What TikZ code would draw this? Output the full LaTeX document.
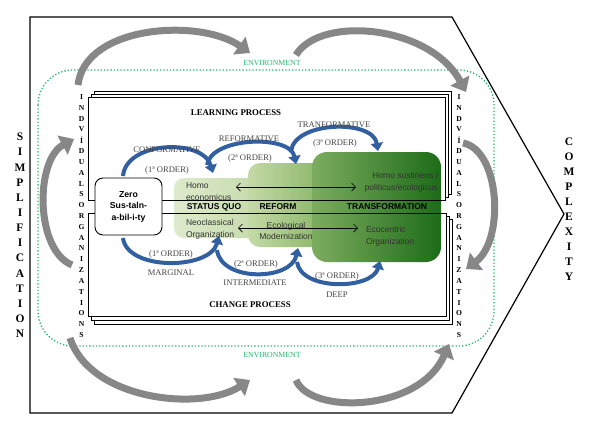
\documentclass[tikz,border=0pt]{standalone}
\usepackage{fontspec}
\setmainfont{Liberation Serif}
\newfontfamily\arialf{Liberation Sans}
\usetikzlibrary{arrows.meta}
\definecolor{envgreen}{RGB}{40,180,110}
\definecolor{arrblue}{RGB}{50,95,160}
\definecolor{arrgray}{RGB}{135,135,135}
\definecolor{lgA}{RGB}{222,234,204}
\definecolor{lgB}{RGB}{196,218,170}
\definecolor{mgA}{RGB}{196,218,166}
\definecolor{mgB}{RGB}{130,176,95}
\definecolor{dgA}{RGB}{125,172,95}
\definecolor{dgB}{RGB}{28,108,24}
\tikzset{
  every node/.style={inner sep=0pt, outer sep=0pt},
  bigarrow/.style={draw=arrgray, line width=7pt, -{Triangle[width=21pt,length=13pt]}},
  bluearrow/.style={draw=arrblue, line width=4pt, -{Triangle[width=12pt,length=8pt]}},
  serlab/.style={font=\fontsize{8.6}{10}\selectfont, text=black!72},
  boldser/.style={font=\fontsize{8.8}{10}\selectfont\bfseries},
  sanslab/.style={font=\arialf\fontsize{8.5}{11.8}\selectfont, text=black!80},
  sansbold/.style={font=\arialf\fontsize{8.5}{10}\selectfont\bfseries},
  vletter/.style={font=\fontsize{7.6}{8}\selectfont\bfseries},
  bigletter/.style={font=\fontsize{11.5}{12}\selectfont\bfseries},
  envlab/.style={font=\fontsize{7.8}{9}\selectfont, text=envgreen},
  procbox/.style={draw=black, line width=0.9pt, fill=white},
  hdbl/.style={draw=black, line width=0.7pt, {Straight Barb[length=4pt,width=8pt]}-{Straight Barb[length=4pt,width=8pt]}}
}
\begin{document}
\begin{tikzpicture}[x=1pt,y=-1pt]
\useasboundingbox (0,0) rectangle (594,429);
% outer pentagon
\draw[line width=1.2pt] (30,17) -- (452,17) -- (564,214) -- (452,413) -- (30,413) -- cycle;
% environment dotted
\draw[envgreen, dotted, line width=1.3pt, rounded corners=35pt] (38,70) rectangle (494,346);
\node[envlab] (envtop) at (272,63) {ENVIRONMENT};
\node[envlab] (envbot) at (272,355) {ENVIRONMENT};
% big gray arrows
\coordinate (g1a) at (78,85);  \coordinate (g1b) at (250,53);
\coordinate (g2a) at (296,55); \coordinate (g2b) at (466,92);
\coordinate (g3a) at (463,143);\coordinate (g3b) at (466,269);
\coordinate (g4a) at (296,380);\coordinate (g4b) at (449,344);
\coordinate (g5a) at (70,338); \coordinate (g5b) at (250,380);
\coordinate (g6a) at (72,265); \coordinate (g6b) at (74,139);
\draw[bigarrow] (g1a) .. controls (85,25) and (200,18) .. (g1b);
\draw[bigarrow] (g2a) .. controls (320,15) and (430,25) .. (g2b);
\draw[bigarrow] (g3a) .. controls (500,150) and (505,240) .. (g3b);
\draw[bigarrow] (g4a) .. controls (310,415) and (420,412) .. (g4b);
\draw[bigarrow] (g5a) .. controls (90,400) and (200,412) .. (g5b);
\draw[bigarrow] (g6a) .. controls (35,250) and (35,160) .. (g6b);
% stacked boxes
\draw[procbox] (94,91) rectangle (451,194);
\draw[procbox] (91,94) rectangle (448,197);
\draw[procbox] (88,97) rectangle (445,200);
\draw[procbox] (94,219) rectangle (452,324);
\draw[procbox] (91,216) rectangle (449,320);
\draw[procbox] (88,213) rectangle (446,316);
% green shapes
\shade[left color=lgA, right color=lgB, rounded corners=10pt] (174,178) rectangle (262,238);
\shade[left color=mgA, right color=mgB, rounded corners=12pt] (248,163) rectangle (335,247);
\shade[shading=axis, shading angle=120, left color=dgA, right color=dgB, rounded corners=15pt] (312,152) rectangle (441,262);
% redraw box edges over shapes
\draw[line width=0.9pt] (88,200) -- (445,200);
\draw[line width=0.9pt] (88,213) -- (446,213);
% blue arrows
\coordinate (b1a) at (123,176); \coordinate (b1b) at (213,173);
\coordinate (b2a) at (207,165); \coordinate (b2b) at (296,164);
\coordinate (b3a) at (291,151); \coordinate (b3b) at (378,151);
\coordinate (b4a) at (123,238); \coordinate (b4b) at (219,236);
\coordinate (b5a) at (217,250); \coordinate (b5b) at (298,248);
\coordinate (b6a) at (297,262); \coordinate (b6b) at (380,261);
\draw[bluearrow] (b1a) .. controls (126,141) and (203,138) .. (b1b);
\draw[bluearrow] (b2a) .. controls (211,137) and (290,134) .. (b2b);
\draw[bluearrow] (b3a) .. controls (295,121) and (373,119) .. (b3b);
\draw[bluearrow] (b4a) .. controls (127,271) and (210,270) .. (b4b);
\draw[bluearrow] (b5a) .. controls (221,282) and (291,281) .. (b5b);
\draw[bluearrow] (b6a) .. controls (301,291) and (372,290) .. (b6b);
% zero box
\node[draw=black, line width=0.9pt, fill=white, rounded corners=8pt, minimum width=67pt, minimum height=57pt, align=center, font=\arialf\fontsize{8.7}{11.5}\selectfont\bfseries] (zero) at (128.5,206.5) {Zero\\Sus-taln-\\a-bil-i-ty};
% labels
\node[boldser] (learn) at (236,113) {LEARNING PROCESS};
\node[boldser] (change) at (250,305) {CHANGE PROCESS};
\node[serlab] (conf) at (167,150) {CONFORMATIVE};
\node[serlab] (o1u) at (167,170) {(1ª ORDER)};
\node[serlab] (refo) at (249,139) {REFORMATIVE};
\node[serlab] (o2u) at (250,158) {(2ª ORDER)};
\node[serlab] (tran) at (334,125) {TRANFORMATIVE};
\node[serlab] (o3u) at (335,143) {(3ª ORDER)};
\node[serlab] (o1l) at (171,254) {(1ª ORDER)};
\node[serlab] (marg) at (171,273) {MARGINAL};
\node[serlab] (o2l) at (256,264) {(2ª ORDER)};
\node[serlab] (inter) at (255,283) {INTERMEDIATE};
\node[serlab] (o3l) at (337,276) {(3ª ORDER)};
\node[serlab] (deep) at (337,295) {DEEP};
\node[sansbold] (sq) at (214,207) {STATUS QUO};
\node[sansbold] (rf) at (278,207) {REFORM};
\node[sansbold] (tf) at (387,207) {TRANSFORMATION};
\node[sanslab, align=left, anchor=west] (homo) at (186,192) {Homo\\economicus};
\node[sanslab, align=left, anchor=west] (neo) at (186,229) {Neoclassical\\Organization};
\node[sanslab, align=center] (eco) at (286,231) {Ecological\\Modernization};
\node[sanslab, align=right, anchor=east] (sust) at (438,182) {Homo sustinens /\\politicus/ecologicus};
\node[sanslab, align=left, anchor=west] (ecoc) at (366,236) {Ecocentric\\Organization};
% horizontal double arrows
\coordinate (h1a) at (236,187); \coordinate (h1b) at (356,187);
\coordinate (h2a) at (238,228); \coordinate (h2b) at (358,228);
\draw[hdbl] (h1a) -- (h1b);
\draw[hdbl] (h2a) -- (h2b);
% vertical letter columns
\foreach \l [count=\i from 0] in {I,N,D,V,Í,D,U,A,L,S,O,R,G,A,N,I,Z,A,T,I,O,N,S}{
  \node[vletter] (lc\i) at (81.5,97+10.82*\i) {\l};
  \node[vletter] (rc\i) at (459,97+10.82*\i) {\l};
}
\foreach \l [count=\i from 0] in {S,I,M,P,L,I,F,I,C,A,T,I,O,N}{
  \node[bigletter] (simp\i) at (20,137+15.15*\i) {\l};
}
\foreach \l [count=\i from 0] in {C,O,M,P,L,E,X,I,T,Y}{
  \node[bigletter] (comp\i) at (569,142+15*\i) {\l};
}
\end{tikzpicture}
\end{document}
